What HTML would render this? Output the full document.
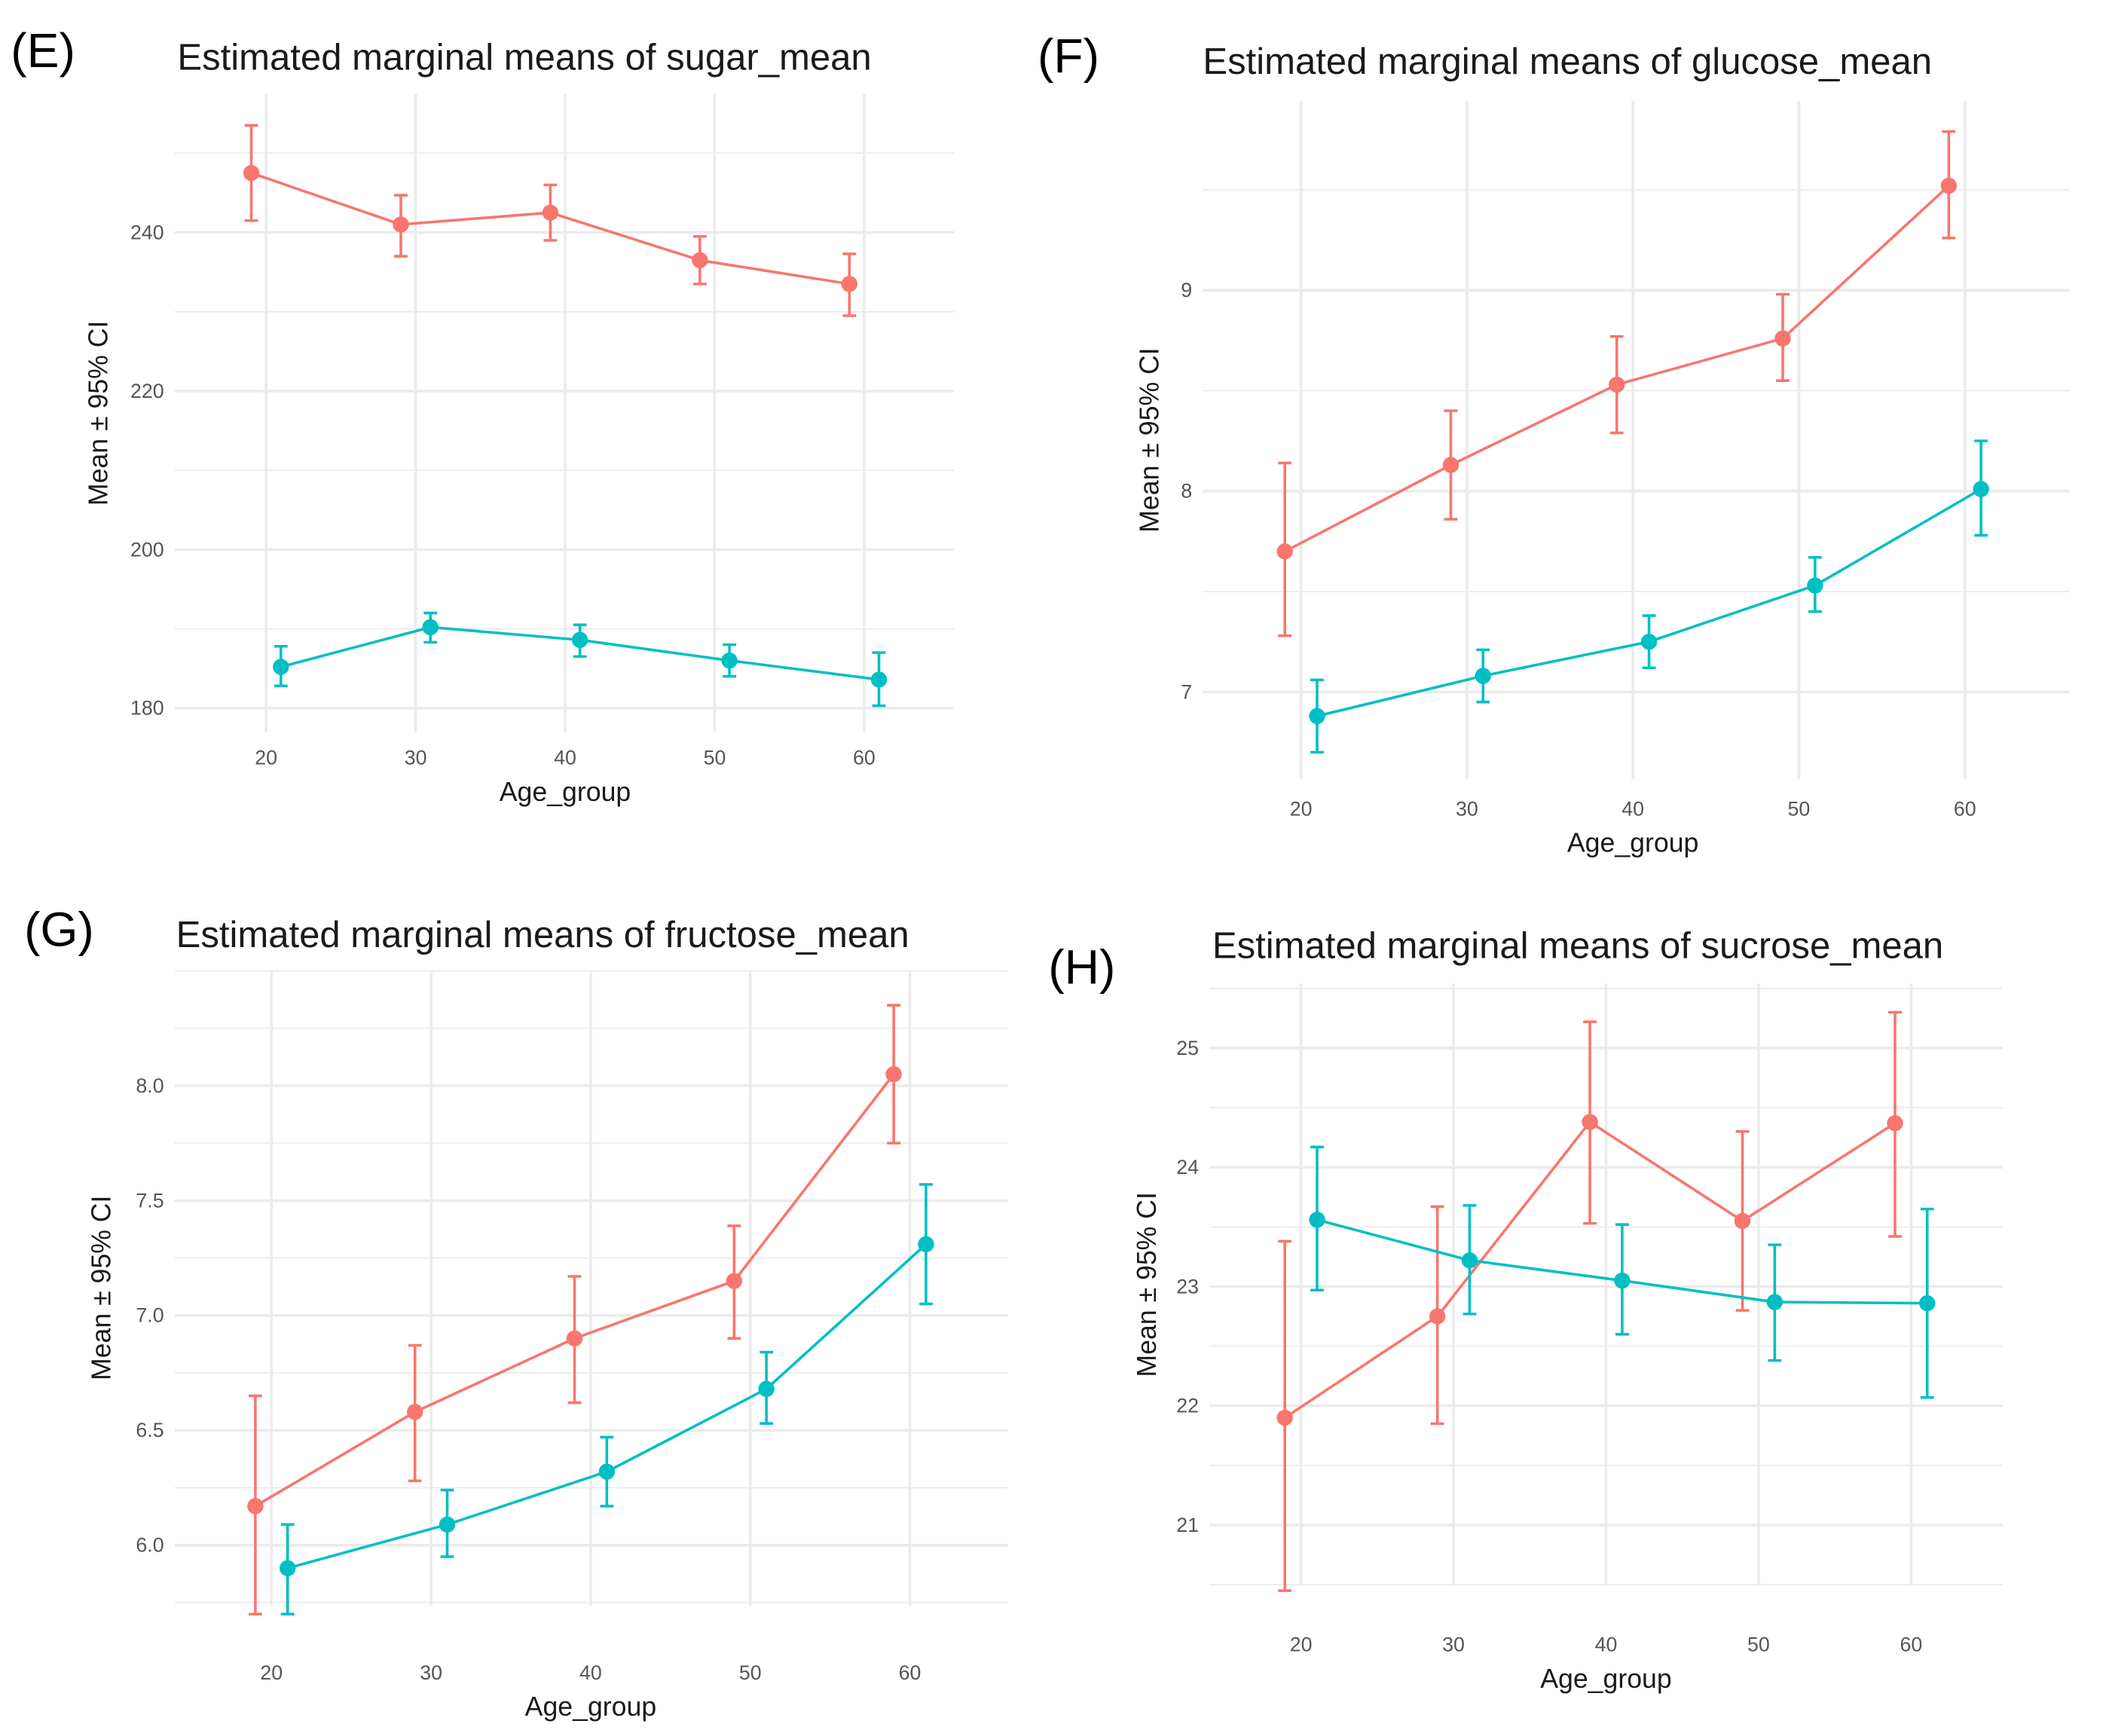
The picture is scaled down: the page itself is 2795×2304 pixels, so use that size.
<!DOCTYPE html>
<html><head><meta charset="utf-8"><style>
html,body{margin:0;padding:0;background:#fff;}
svg{display:block;font-family:"Liberation Sans",sans-serif;}
</style></head><body>
<svg id="fig" width="2795" height="2304" viewBox="0 0 1567 1292" preserveAspectRatio="none" xmlns="http://www.w3.org/2000/svg"></svg>
<script>
const ages=[20,30,40,50,60];
const eRed=[247.5,241,242.5,236.5,233.5];
const eRedLo=[241.5,237,239,233.5,229.5];
const eRedHi=[253.5,244.7,246,239.5,237.3];
const eTeal=[185.2,190.2,188.6,186,183.6];
const eTealLo=[182.8,188.3,186.5,184,180.3];
const eTealHi=[187.8,192,190.5,188,187];
const eTicks=[180,200,220,240];
const fRed=[7.7,8.13,8.53,8.76,9.52];
const fRedLo=[7.28,7.86,8.29,8.55,9.26];
const fRedHi=[8.14,8.4,8.77,8.98,9.79];
const fTeal=[6.88,7.08,7.25,7.53,8.01];
const fTealLo=[6.7,6.95,7.12,7.4,7.78];
const fTealHi=[7.06,7.21,7.38,7.67,8.25];
const fTicks=[7,8,9];
const gRed=[6.17,6.58,6.9,7.15,8.05];
const gRedLo=[5.7,6.28,6.62,6.9,7.75];
const gRedHi=[6.65,6.87,7.17,7.39,8.35];
const gTeal=[5.9,6.09,6.32,6.68,7.31];
const gTealLo=[5.7,5.95,6.17,6.53,7.05];
const gTealHi=[6.09,6.24,6.47,6.84,7.57];
const gTicks=[6.0,6.5,7.0,7.5,8.0];
const hRed=[21.9,22.75,24.38,23.55,24.37];
const hRedLo=[20.45,21.85,23.53,22.8,23.42];
const hRedHi=[23.38,23.67,25.22,24.3,25.3];
const hTeal=[23.56,23.22,23.05,22.87,22.86];
const hTealLo=[22.97,22.77,22.6,22.38,22.07];
const hTealHi=[24.17,23.68,23.52,23.35,23.65];
const hTicks=[21,22,23,24,25];

const svg=document.getElementById('fig');
const NS='http://www.w3.org/2000/svg';
function el(t,a,p){const e=document.createElementNS(NS,t);for(const k in a)e.setAttribute(k,a[k]);(p||svg).appendChild(e);return e;}

function panel(cfg){
  const g=el('g',{});
  
  
  const ys=v=>cfg.y1+(v-cfg.v1)*(cfg.y2-cfg.y1)/(cfg.v2-cfg.v1);
  const xs=a=>cfg.x20+(a-20)*cfg.xstep/10;
  const ymin=cfg.top, ymax=cfg.bot;
  const step=cfg.ticks[1]-cfg.ticks[0];
  for(let v=cfg.ticks[0]-step*1.5;v<=cfg.ticks[cfg.ticks.length-1]+step*1.5;v+=step/2){
    const y=ys(v); if(y<ymin||y>ymax) continue;
    const major=cfg.ticks.some(t=>Math.abs(t-v)<1e-6);
    const l=el('line',{x1:cfg.L,x2:cfg.R,y1:y,y2:y,stroke:'#ebebeb','stroke-width':major?2:1},g);
    
    
  }
  ages.forEach(a=>{
    const l=el('line',{x1:xs(a),x2:xs(a),y1:ymin,y2:ymax,stroke:'#ebebeb','stroke-width':2},g);
    
    
    const t=el('text',{x:xs(a),y:cfg.xtickY,'font-size':15,fill:'#555','text-anchor':'middle'},g);
    t.textContent=a;
    
    
  });
  cfg.ticks.forEach(v=>{
    const t=el('text',{x:cfg.L-8,y:ys(v)+5,'font-size':15,fill:'#555','text-anchor':'end'},g);
    t.textContent=cfg.fmt?v.toFixed(1):v;
    
    
  });
  const series=[[cfg.red,cfg.redLo,cfg.redHi,'#F8766D',-cfg.dodge,'red'],[cfg.teal,cfg.tealLo,cfg.tealHi,'#00BFC4',cfg.dodge,'teal']];
  series.forEach(([m,lo,hi,c,d,nm])=>{
    const pts=ages.map((a,i)=>(xs(a)+d)+','+ys(m[i])).join(' ');
    const pl=el('polyline',{points:pts,fill:'none',stroke:c,'stroke-width':2},g);
    
    
    ages.forEach((a,i)=>{
      const x=xs(a)+d;
      const eb=el('path',{d:`M${x},${ys(lo[i])}V${ys(hi[i])}M${x-5},${ys(lo[i])}H${x+5}M${x-5},${ys(hi[i])}H${x+5}`,stroke:c,'stroke-width':2,fill:'none'},g);
      
      
      const p=el('circle',{cx:x,cy:ys(m[i]),r:6,fill:c},g);
      
      
    });
  });
  const ti=el('text',{x:cfg.titleX,y:cfg.titleY,'font-size':27.5,fill:'#1a1a1a'},g);
  ti.textContent=cfg.title;
  
  
  const lb=el('text',{x:cfg.labX,y:cfg.labY,'font-size':36,fill:'#000'},g);
  lb.textContent='('+cfg.id+')';
  
  
  const xt=el('text',{x:(xs(20)+xs(60))/2,y:cfg.xtickY+27,'font-size':20,fill:'#1a1a1a','text-anchor':'middle'},g);
  xt.textContent='Age_group';
  
  
  const yc=(ymin+ymax)/2;
  const yt=el('text',{x:cfg.ytX,y:yc,'font-size':20,fill:'#1a1a1a','text-anchor':'middle',transform:`rotate(-90 ${cfg.ytX} ${yc})`},g);
  yt.textContent='Mean ± 95% CI';
  
  
}

panel({id:'E',title:'Estimated marginal means of sugar_mean',titleX:132,titleY:52,labX:8,labY:50,
 L:130,R:710,top:70,bot:545,x20:198,xstep:111.25,dodge:11,v1:240,y1:173,v2:180,y2:527,ticks:eTicks,
 xtickY:569,ytX:80,red:eRed,redLo:eRedLo,redHi:eRedHi,teal:eTeal,tealLo:eTealLo,tealHi:eTealHi});
panel({id:'F',title:'Estimated marginal means of glucose_mean',titleX:895,titleY:55,labX:772,labY:54,
 L:895,R:1540,top:75,bot:580,x20:968,xstep:123.5,dodge:12,v1:9,y1:216,v2:7,y2:515,ticks:fTicks,
 xtickY:607,ytX:862,red:fRed,redLo:fRedLo,redHi:fRedHi,teal:fTeal,tealLo:fTealLo,tealHi:fTealHi});
panel({id:'G',title:'Estimated marginal means of fructose_mean',titleX:131,titleY:705,labX:18,labY:704,
 L:130,R:750,top:722,bot:1195,x20:202,xstep:118.75,dodge:12,v1:8,y1:808,v2:6,y2:1150,ticks:gTicks,fmt:true,
 xtickY:1250,ytX:82,red:gRed,redLo:gRedLo,redHi:gRedHi,teal:gTeal,tealLo:gTealLo,tealHi:gTealHi});
panel({id:'H',title:'Estimated marginal means of sucrose_mean',titleX:902,titleY:713,labX:780,labY:732,
 L:900,R:1490,top:732,bot:1180,x20:968,xstep:113.5,dodge:12,v1:25,y1:780,v2:21,y2:1135,ticks:hTicks,
 xtickY:1229,ytX:860,red:hRed,redLo:hRedLo,redHi:hRedHi,teal:hTeal,tealLo:hTealLo,tealHi:hTealHi});
</script>
</body></html>
